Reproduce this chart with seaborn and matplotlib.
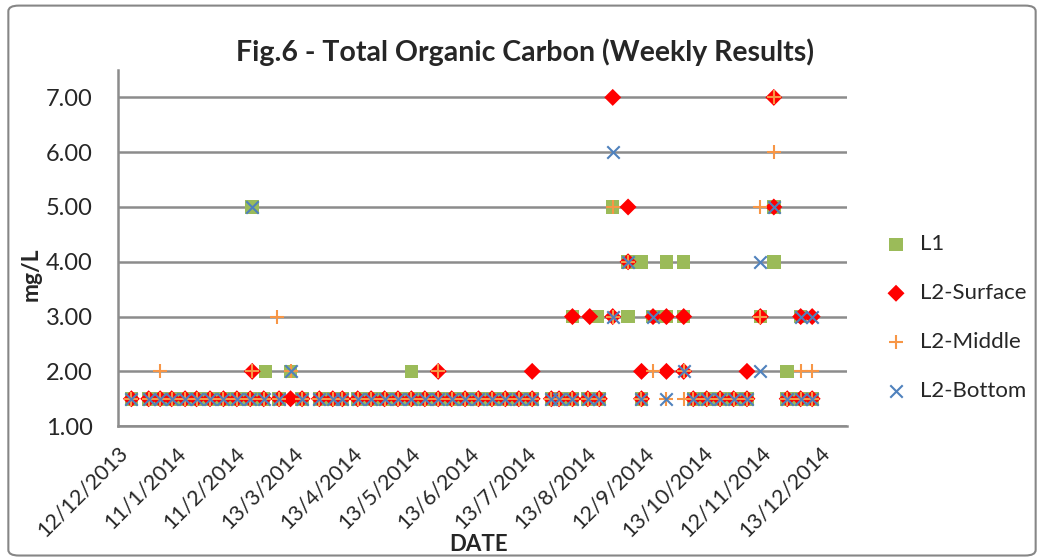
import matplotlib
matplotlib.use("Agg")
import matplotlib.pyplot as plt
import seaborn as sns
import pandas as pd
from matplotlib.patches import FancyBboxPatch

# weekly sampling dates where every station was reported at the 1.50 mg/L limit
base_dates = ["2013-12-19", "2013-12-28", "2014-01-03", "2014-01-09", "2014-01-16", "2014-01-22",
              "2014-01-29", "2014-02-05", "2014-02-12", "2014-02-19", "2014-02-26", "2014-03-06",
              "2014-03-18", "2014-03-27", "2014-04-03", "2014-04-08", "2014-04-16", "2014-04-23",
              "2014-04-30", "2014-05-07", "2014-05-14", "2014-05-21", "2014-05-28", "2014-06-04",
              "2014-06-11", "2014-06-18", "2014-06-25", "2014-07-02", "2014-07-09", "2014-07-16",
              "2014-07-26", "2014-07-30", "2014-08-06", "2014-08-14", "2014-08-20", "2014-09-11",
              "2014-10-08", "2014-10-15", "2014-10-22", "2014-10-29", "2014-11-05", "2014-11-26",
              "2014-12-03", "2014-12-09"]
base_value = 1.5

# other results per station
l1_dates = ["2014-02-20", "2014-02-27", "2014-03-12", "2014-05-14", "2014-08-06", "2014-08-19",
            "2014-08-27", "2014-09-04", "2014-09-04", "2014-09-11", "2014-09-17", "2014-09-24",
            "2014-09-24", "2014-10-03", "2014-10-03", "2014-11-12", "2014-11-19", "2014-11-19",
            "2014-11-26", "2014-12-03"]
l1_vals = [5, 2, 2, 2, 3, 3, 5, 4, 3, 4, 3, 4, 3, 4, 3, 3, 5, 4, 2, 3]

l2s_dates = ["2014-02-20", "2014-03-12", "2014-05-28", "2014-07-16", "2014-08-06", "2014-08-15",
             "2014-08-27", "2014-08-27", "2014-09-04", "2014-09-04", "2014-09-11", "2014-09-17",
             "2014-09-24", "2014-09-24", "2014-10-03", "2014-10-03", "2014-11-05", "2014-11-12",
             "2014-11-19", "2014-11-19", "2014-12-03", "2014-12-09"]
l2s_vals = [2, 1.5, 2, 2, 3, 3, 7, 3, 5, 4, 2, 3, 3, 2, 3, 2, 2, 3, 7, 5, 3, 3]

l2m_dates = ["2014-01-03", "2014-02-20", "2014-03-05", "2014-03-12", "2014-05-28", "2014-08-27",
             "2014-08-27", "2014-09-04", "2014-09-17", "2014-09-24", "2014-10-03", "2014-10-03",
             "2014-11-12", "2014-11-12", "2014-11-19", "2014-11-19", "2014-12-03", "2014-12-09"]
l2m_vals = [2, 2, 3, 2, 2, 5, 3, 4, 2, 1.5, 2, 1.5, 5, 3, 7, 6, 2, 2]

l2b_dates = ["2014-02-20", "2014-03-12", "2014-08-27", "2014-08-27", "2014-09-04", "2014-09-17",
             "2014-09-24", "2014-10-03", "2014-11-12", "2014-11-12", "2014-11-19", "2014-12-03",
             "2014-12-09"]
l2b_vals = [5, 2, 6, 3, 4, 3, 1.5, 2, 4, 2, 5, 3, 3]

tick_dates = ["2013-12-12", "2014-01-11", "2014-02-11", "2014-03-13", "2014-04-13", "2014-05-13",
              "2014-06-13", "2014-07-13", "2014-08-13", "2014-09-12", "2014-10-13", "2014-11-12",
              "2014-12-13"]
tick_labels = ["12/12/2013", "11/1/2014", "11/2/2014", "13/3/2014", "13/4/2014", "13/5/2014",
               "13/6/2014", "13/7/2014", "13/8/2014", "12/9/2014", "13/10/2014", "12/11/2014",
               "13/12/2014"]

sns.set_style("white")
plt.rcParams['font.family'] = ['Lato', 'DejaVu Sans']

fig = plt.figure(figsize=(10.44, 5.6), dpi=100)
ax = fig.add_axes([0.113, 0.239, 0.698, 0.636])

series = [
    ("L1", l1_dates, l1_vals, "s", "#9BBB59", 95),
    ("L2-Surface", l2s_dates, l2s_vals, "D", "#FF0000", 75),
    ("L2-Middle", l2m_dates, l2m_vals, "+", "#F79646", 110),
    ("L2-Bottom", l2b_dates, l2b_vals, "x", "#4F81BD", 80),
]

for i, (name, dates, vals, mk, col, size) in enumerate(series):
    df = pd.DataFrame({
        "DATE": pd.to_datetime(base_dates + dates),
        "TOC": [base_value] * len(base_dates) + vals,
    })
    sns.scatterplot(data=df, x="DATE", y="TOC", ax=ax, marker=mk, color=col, s=size,
                    linewidth=1.5 if mk in "+x" else 0, edgecolor=col if mk in "+x" else "none",
                    label=name, zorder=3 + i)

ax.set_xlim(pd.Timestamp("2013-12-12"), pd.Timestamp("2014-12-27"))
ax.set_ylim(1, 7.5)
ax.set_yticks([1, 2, 3, 4, 5, 6, 7])
ax.set_yticklabels(["%.2f" % v for v in [1, 2, 3, 4, 5, 6, 7]], fontsize=17)
ax.set_xticks(pd.to_datetime(tick_dates))
ax.set_xticklabels(tick_labels, rotation=45, ha="right", rotation_mode="anchor", fontsize=15.5)
ax.set_xlabel("")
ax.set_ylabel("")

ax.yaxis.grid(True, color="#8c8c8c", lw=1.8)
ax.set_axisbelow(True)
for s in ["top", "right"]:
    ax.spines[s].set_visible(False)
for s in ["left", "bottom"]:
    ax.spines[s].set_color("#8c8c8c")
    ax.spines[s].set_linewidth(1.8)
ax.tick_params(axis="x", direction="inout", length=10, width=1.5, color="#8c8c8c", pad=7)
ax.tick_params(axis="y", length=0, pad=18)

ax.legend(loc="center left", bbox_to_anchor=(1.025, 0.305), frameon=False, fontsize=16,
          labelspacing=1.3, handletextpad=0.1, borderaxespad=0)

fig.text(0.503, 0.907, "Fig.6 - Total Organic Carbon (Weekly Results)", ha="center", va="center",
         fontsize=20.5, fontweight="bold")
fig.text(0.03, 0.51, "mg/L", rotation=90, ha="center", va="center", fontsize=16.5, fontweight="bold")
fig.text(0.458, 0.027, "DATE", ha="center", va="center", fontsize=16, fontweight="bold")

fig.patches.append(FancyBboxPatch((0.008, 0.008), 0.984, 0.982, boxstyle="round,pad=0,rounding_size=0.01",
                                  transform=fig.transFigure, ec="#868686", fc="none", lw=1.5))

fig.savefig("out.png", dpi=100)
